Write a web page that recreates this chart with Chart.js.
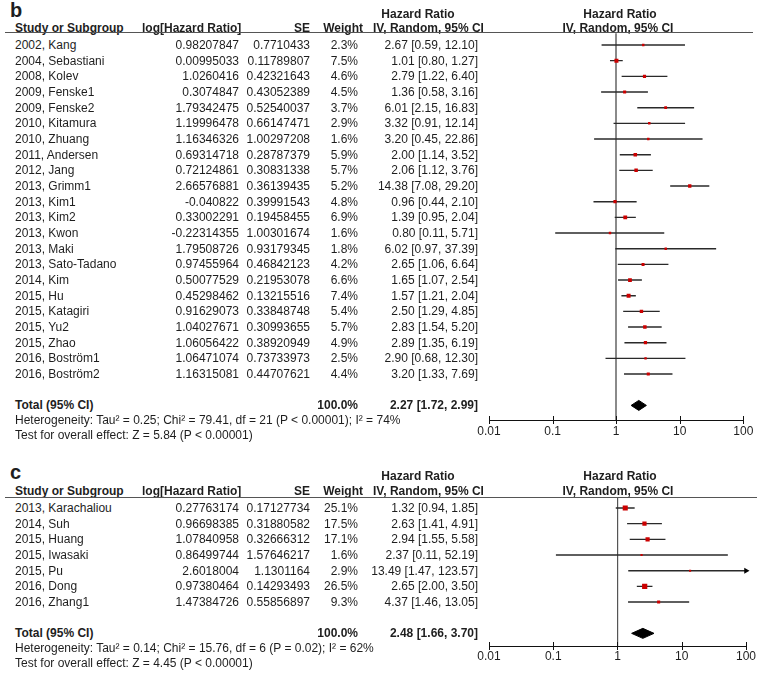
<!DOCTYPE html>
<html>
<head>
<meta charset="utf-8">
<title>Hazard ratio forest plots</title>
<script src="https://cdn.jsdelivr.net/npm/chart.js@4.4.1/dist/chart.umd.min.js"></script>
<style>
  body { margin: 0; background: #fff; }
  #page { position: relative; width: 759px; height: 676px; overflow: hidden;
          font-family: "Liberation Sans", Arial, sans-serif; font-size: 12px; color: #1e1e1e; }
  .t { position: absolute; white-space: nowrap; line-height: 14px; }
  .r { width: 240px; text-align: right; }
  .c { width: 240px; text-align: center; }
  .b { font-weight: bold; }
  .panel { position: absolute; font-weight: bold; font-size: 20px; line-height: 20px; }
  .rule { position: absolute; height: 0; border-top: 1.5px solid #555; }
  .box { position: absolute; left: 460px; }
</style>
</head>
<body>
<div id="page">
  <div class="box" style="top:0px"><canvas id="chartB" width="299" height="446"></canvas></div>
  <div class="box" style="top:455px"><canvas id="chartC" width="299" height="221"></canvas></div>
</div>
<script>
// ---- panel b data ----
const studiesB = ['2002, Kang', '2004, Sebastiani', '2008, Kolev', '2009, Fenske1', '2009, Fenske2',
    '2010, Kitamura', '2010, Zhuang', '2011, Andersen', '2012, Jang', '2013, Grimm1', '2013, Kim1',
    '2013, Kim2', '2013, Kwon', '2013, Maki', '2013, Sato-Tadano', '2014, Kim', '2015, Hu',
    '2015, Katagiri', '2015, Yu2', '2015, Zhao', '2016, Boström1', '2016, Boström2'];
const logHrB = [0.98207847, 0.00995033, 1.0260416, 0.3074847, 1.79342475, 1.19996478, 1.16346326,
    0.69314718, 0.72124861, 2.66576881, -0.040822, 0.33002291, -0.22314355, 1.79508726, 0.97455964,
    0.50077529, 0.45298462, 0.91629073, 1.04027671, 1.06056422, 1.06471074, 1.16315081];
const seB = [0.7710433, 0.11789807, 0.42321643, 0.43052389, 0.52540037, 0.66147471, 1.00297208,
    0.28787379, 0.30831338, 0.36139435, 0.39991543, 0.19458455, 1.00301674, 0.93179345, 0.46842123,
    0.21953078, 0.13215516, 0.33848748, 0.30993655, 0.38920949, 0.73733973, 0.44707621];
const weightB = [2.3, 7.5, 4.6, 4.5, 3.7, 2.9, 1.6, 5.9, 5.7, 5.2, 4.8, 6.9, 1.6, 1.8, 4.2, 6.6, 7.4,
    5.4, 5.7, 4.9, 2.5, 4.4];
const hrB = [2.67, 1.01, 2.79, 1.36, 6.01, 3.32, 3.20, 2.00, 2.06, 14.38, 0.96, 1.39, 0.80, 6.02, 2.65,
    1.65, 1.57, 2.50, 2.83, 2.89, 2.90, 3.20];
const loB = [0.59, 0.80, 1.22, 0.58, 2.15, 0.91, 0.45, 1.14, 1.12, 7.08, 0.44, 0.95, 0.11, 0.97, 1.06,
    1.07, 1.21, 1.29, 1.54, 1.35, 0.68, 1.33];
const hiB = [12.10, 1.27, 6.40, 3.16, 16.83, 12.14, 22.86, 3.52, 3.76, 29.20, 2.10, 2.04, 5.71, 37.39,
    6.64, 2.54, 2.04, 4.85, 5.20, 6.19, 12.30, 7.69];
const totalB = [2.27, 1.72, 2.99];
const notesB = ['Heterogeneity: Tau² = 0.25; Chi² = 79.41, df = 21 (P < 0.00001); I² = 74%',
    'Test for overall effect: Z = 5.84 (P < 0.00001)'];

// ---- panel c data ----
const studiesC = ['2013, Karachaliou', '2014, Suh', '2015, Huang', '2015, Iwasaki', '2015, Pu',
    '2016, Dong', '2016, Zhang1'];
const logHrC = [0.27763174, 0.96698385, 1.07840958, 0.86499744, 2.6018004, 0.97380464, 1.47384726];
const seC = [0.17127734, 0.31880582, 0.32666312, 1.57646217, 1.1301164, 0.14293493, 0.55856897];
const weightC = [25.1, 17.5, 17.1, 1.6, 2.9, 26.5, 9.3];
const hrC = [1.32, 2.63, 2.94, 2.37, 13.49, 2.65, 4.37];
const loC = [0.94, 1.41, 1.55, 0.11, 1.47, 2.00, 1.46];
const hiC = [1.85, 4.91, 5.58, 52.19, 123.57, 3.50, 13.05];
const totalC = [2.48, 1.66, 3.70];
const notesC = ['Heterogeneity: Tau² = 0.14; Chi² = 15.76, df = 6 (P = 0.02); I² = 62%',
    'Test for overall effect: Z = 4.45 (P < 0.00001)'];

// ---- axis ----
const tickVals = [0.01, 0.1, 1, 10, 100];
const tickLabels = ['0.01', '0.1', '1', '10', '100'];

const page = document.getElementById('page');

function txt(x, y, s, cls) {
    const d = document.createElement('div');
    cls = cls || '';
    d.className = 't ' + cls;
    d.textContent = s;
    let left = x;
    if (cls.indexOf('r') !== -1) left = x - 240;
    if (cls.indexOf('c') !== -1) left = x - 120;
    d.style.left = left + 'px';
    d.style.top = (y - 7) + 'px';
    page.appendChild(d);
}

function fmtCI(h, l, u) {
    return h.toFixed(2) + ' [' + l.toFixed(2) + ', ' + u.toFixed(2) + ']';
}

// tick marks that cross the axis line
const crossTicks = {
    id: 'crossTicks',
    afterDraw(chart) {
        const x = chart.scales.x, yb = chart.chartArea.bottom, c = chart.ctx;
        c.save();
        c.strokeStyle = '#111';
        c.lineWidth = 1;
        x.ticks.forEach(function (t) {
            const px = Math.round(x.getPixelForValue(t.value)) + 0.5;
            c.beginPath();
            c.moveTo(px, yb - 4);
            c.lineTo(px, yb + 4);
            c.stroke();
        });
        c.restore();
    }
};

function buildPanel(p) {
    const n = p.hr.length;
    const totalIdx = n + 1;
    const areaH = p.areaBottom - p.areaTop;
    const yMin = -(p.firstRowY - p.areaTop) / p.rowH;
    const yMax = yMin + areaH / p.rowH;
    const xMax = tickVals[tickVals.length - 1];
    const half = 5 / p.rowH;
    const maxW = Math.max.apply(null, p.weight);

    const datasets = [];
    // study squares, area relative to the largest weight in the panel
    datasets.push({
        data: p.hr.map((h, i) => ({ x: h, y: i })),
        pointStyle: 'rect',
        pointRadius: p.weight.map(w => Math.max(p.minSide, p.maxSide * Math.sqrt(w / maxW)) / Math.SQRT2),
        pointBackgroundColor: '#cc0000',
        pointBorderWidth: 0,
        order: 0
    });
    // confidence intervals
    p.hr.forEach(function (h, i) {
        datasets.push({
            data: [{ x: p.lo[i], y: i }, { x: Math.min(p.hi[i], xMax), y: i }],
            showLine: true,
            borderColor: '#2a2a2a',
            borderWidth: 1.4,
            pointRadius: 0,
            order: 2
        });
    });
    // arrows for intervals past the axis
    const arrows = [];
    p.hi.forEach(function (u, i) { if (u > xMax) arrows.push({ x: xMax, y: i }); });
    if (arrows.length) {
        datasets.push({
            data: arrows,
            pointStyle: 'triangle',
            rotation: 90,
            pointRadius: 3.5,
            pointBackgroundColor: '#000',
            pointBorderWidth: 0,
            clip: false,
            order: 1
        });
    }
    // pooled diamond
    const t = p.total;
    datasets.push({
        data: [{ x: t[1], y: totalIdx }, { x: t[0], y: totalIdx - half }, { x: t[2], y: totalIdx },
               { x: t[0], y: totalIdx + half }, { x: t[1], y: totalIdx }],
        showLine: true,
        fill: 'shape',
        backgroundColor: '#000',
        borderColor: '#000',
        borderWidth: 1,
        pointRadius: 0,
        tension: 0,
        order: 1
    });

    const chart = new Chart(document.getElementById(p.canvas), {
        type: 'scatter',
        data: { datasets: datasets },
        options: {
            responsive: false,
            animation: false,
            layout: { padding: { left: p.xLeft - 460, right: 759 - p.xRight, top: p.areaTop - p.top, bottom: 0 } },
            plugins: { legend: { display: false }, tooltip: { enabled: false } },
            scales: {
                x: {
                    type: 'logarithmic',
                    min: tickVals[0],
                    max: xMax,
                    afterBuildTicks: function (scale) { scale.ticks = tickVals.map(v => ({ value: v })); },
                    afterFit: function (scale) { scale.height = p.top + p.canvasH - p.areaBottom; },
                    ticks: {
                        callback: function (v, i) { return tickLabels[i]; },
                        autoSkip: false,
                        maxRotation: 0,
                        padding: p.labelPad,
                        color: '#1e1e1e',
                        font: { family: '"Liberation Sans", Arial, sans-serif', size: 12 }
                    },
                    grid: {
                        drawTicks: false,
                        color: ctx => (ctx.tick && ctx.tick.value === 1) ? p.refColor : 'rgba(0,0,0,0)',
                        lineWidth: ctx => (ctx.tick && ctx.tick.value === 1) ? p.refWidth : 0
                    },
                    border: { display: true, color: '#111', width: 1 }
                },
                y: { type: 'linear', display: false, reverse: true, min: yMin, max: yMax }
            }
        },
        plugins: [crossTicks]
    });

    // ---- table text ----
    const ys = chart.scales.y;
    const rowY = i => p.top + ys.getPixelForValue(i);

    const lab = document.createElement('div');
    lab.className = 'panel';
    lab.textContent = p.label;
    lab.style.left = '10px';
    lab.style.top = (p.labelY - 10) + 'px';
    page.appendChild(lab);

    txt(418, p.head1Y, 'Hazard Ratio', 'c b');
    txt(620, p.head1Y, 'Hazard Ratio', 'c b');
    txt(15, p.head2Y, 'Study or Subgroup', 'b');
    txt(142, p.head2Y, 'log[Hazard Ratio]', 'b');
    txt(310, p.head2Y, 'SE', 'r b');
    txt(363, p.head2Y, 'Weight', 'r b');
    txt(373, p.head2Y, 'IV, Random, 95% CI', 'b');
    txt(618, p.head2Y, 'IV, Random, 95% CI', 'c b');

    const rule = document.createElement('div');
    rule.className = 'rule';
    rule.style.left = '5px';
    rule.style.width = (p.ruleRight - 5) + 'px';
    rule.style.top = (p.areaTop - 1) + 'px';
    page.appendChild(rule);

    p.names.forEach(function (s, i) {
        const y = rowY(i);
        txt(15, y, s);
        txt(239, y, String(p.logHr[i]), 'r');
        txt(310, y, String(p.se[i]), 'r');
        txt(358, y, p.weight[i].toFixed(1) + '%', 'r');
        txt(478, y, fmtCI(p.hr[i], p.lo[i], p.hi[i]), 'r');
    });

    const ty = rowY(totalIdx);
    txt(15, ty, 'Total (95% CI)', 'b');
    txt(358, ty, '100.0%', 'r b');
    txt(478, ty, fmtCI(t[0], t[1], t[2]), 'r b');
    txt(15, ty + 15, p.notes[0]);
    txt(15, ty + 30, p.notes[1]);
}

buildPanel({
    canvas: 'chartB', label: 'b', top: 0, canvasH: 446,
    areaTop: 33.3, areaBottom: 420, firstRowY: 45, rowH: 15.67,
    xLeft: 489, xRight: 743.3, labelPad: 4, maxSide: 4.0, minSide: 2.4,
    refColor: '#8a8a8a', refWidth: 2, ruleRight: 753,
    labelY: 10, head1Y: 14, head2Y: 28,
    names: studiesB, logHr: logHrB, se: seB, weight: weightB, hr: hrB, lo: loB, hi: hiB,
    total: totalB, notes: notesB
});

buildPanel({
    canvas: 'chartC', label: 'c', top: 455, canvasH: 221,
    areaTop: 497.5, areaBottom: 646, firstRowY: 508, rowH: 15.67,
    xLeft: 489, xRight: 746.7, labelPad: 3, maxSide: 5.2, minSide: 2.1,
    refColor: '#555', refWidth: 1.2, ruleRight: 757,
    labelY: 472, head1Y: 476, head2Y: 491,
    names: studiesC, logHr: logHrC, se: seC, weight: weightC, hr: hrC, lo: loC, hi: hiC,
    total: totalC, notes: notesC
});
</script>
</body>
</html>
